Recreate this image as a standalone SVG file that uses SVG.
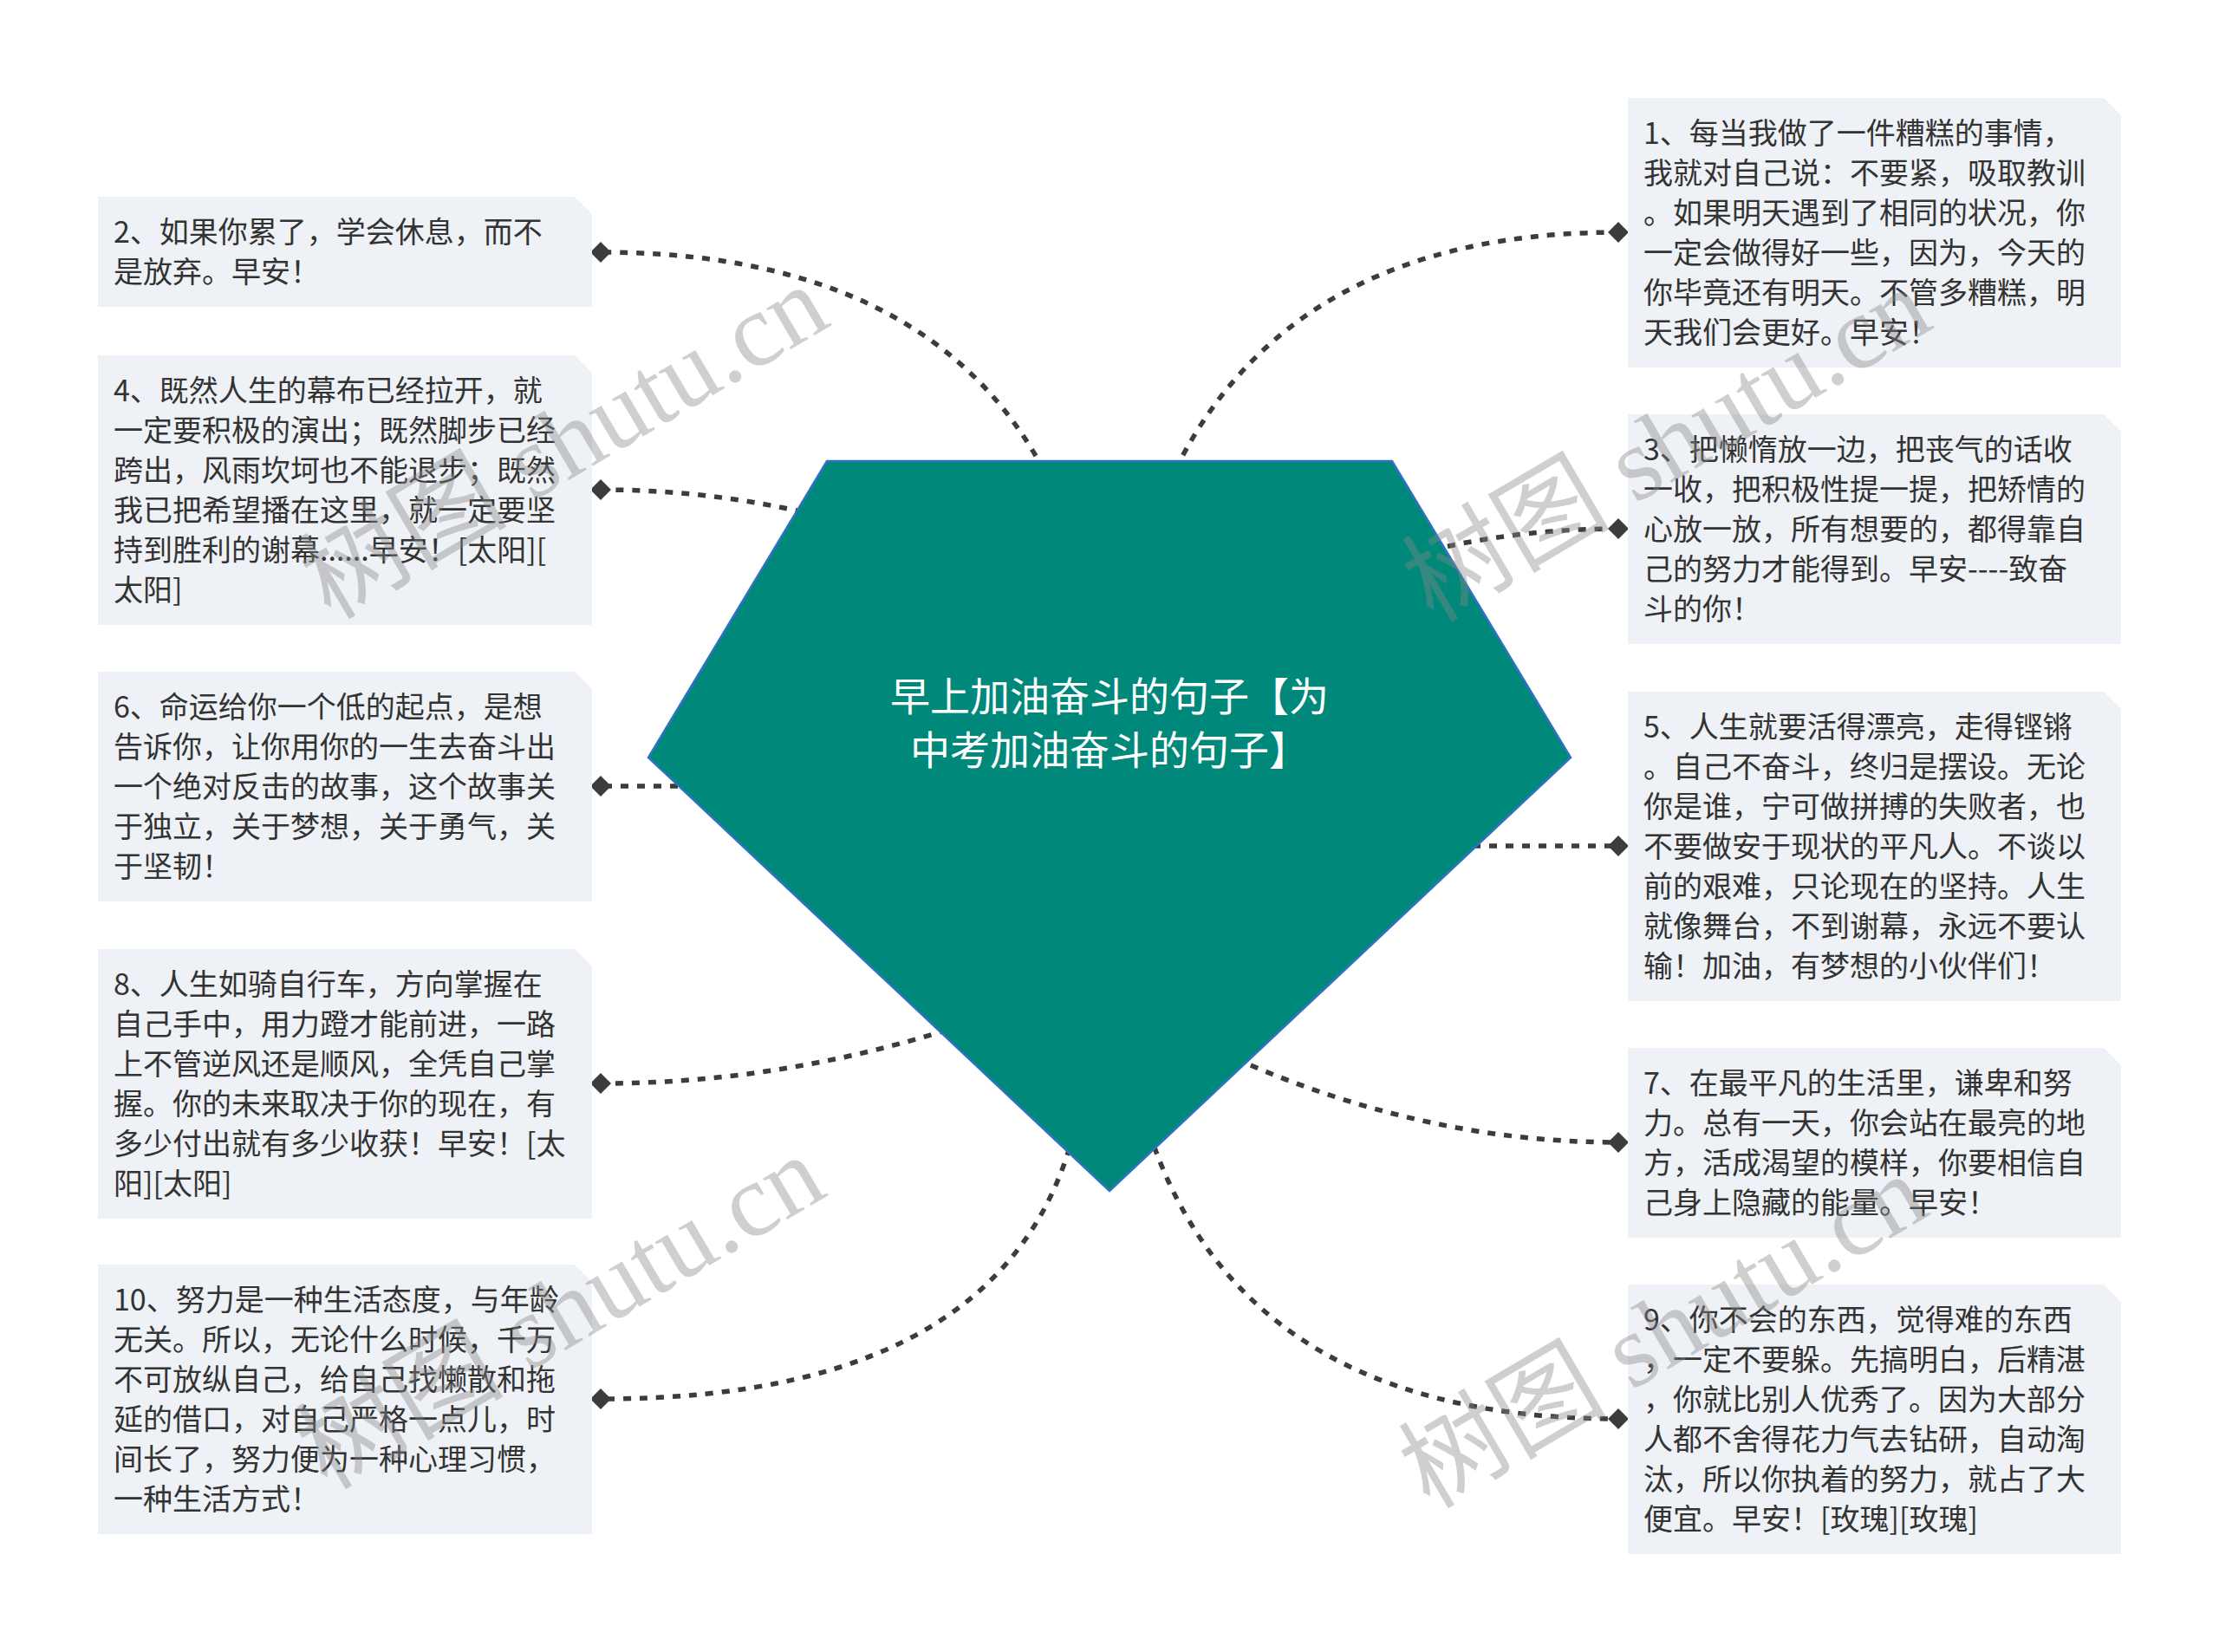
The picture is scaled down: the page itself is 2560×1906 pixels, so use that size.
<svg xmlns="http://www.w3.org/2000/svg" width="2560" height="1906" viewBox="0 0 2560 1906">
<style>
.box{fill:#eef1f5;}
.t{font-family:"Noto Sans CJK SC","Liberation Sans",sans-serif;font-size:34px;fill:#333333;}
.title{font-family:"Noto Sans CJK SC","Liberation Sans",sans-serif;font-size:46px;fill:#ffffff;text-anchor:middle;}
.conn{fill:none;stroke:#3c3c3c;stroke-width:5.5;stroke-dasharray:9 10;marker-end:url(#dia);}
.wm{font-family:"Liberation Serif","Noto Sans CJK SC",serif;font-size:120px;fill:#888888;fill-opacity:0.4;text-anchor:middle;}
</style>
<defs>
<marker id="dia" viewBox="-13 -13 26 26" markerWidth="26" markerHeight="26" refX="0" refY="0" markerUnits="userSpaceOnUse" orient="auto">
<path d="M-12 0 L0 -12 L12 0 L0 12 Z" fill="#3c3c3c"/>
</marker>
</defs>
<rect x="0" y="0" width="2560" height="1906" fill="#ffffff"/>
<g id="connectors">
<path class="conn" d="M 1280 873 Q 1310 268 1867 268"/>
<path class="conn" d="M 1280 873 Q 1265 291 693 291"/>
<path class="conn" d="M 1560 660 Q 1710 610 1867 610"/>
<path class="conn" d="M 1000 610 Q 850 565 693 565"/>
<path class="conn" d="M 1680 976 L 1867 976"/>
<path class="conn" d="M 820 907 L 693 907"/>
<path class="conn" d="M 1340 1180 Q 1600 1318 1867 1318"/>
<path class="conn" d="M 1200 1150 Q 950 1250 693 1250"/>
<path class="conn" d="M 1310 1250 Q 1400 1637 1867 1637"/>
<path class="conn" d="M 1250 1250 Q 1200 1614 693 1614"/>
</g>
<g id="center">
<polygon points="954,532 1606,532 1812,874 1280,1374 748,874" fill="#00897b" stroke="#2f72c4" stroke-width="2.5" stroke-linejoin="miter"/>
<text class="title"><tspan x="1280" y="820">早上加油奋斗的句子【为</tspan><tspan x="1280" y="882">中考加油奋斗的句子】</tspan></text>
</g>
<g id="n1">
<path class="box" d="M1878 113 H2427 L2447 133 V424 H1878 Z"/>
<text class="t"><tspan x="1896" y="166">1、每当我做了一件糟糕的事情，</tspan><tspan x="1896" y="212">我就对自己说：不要紧，吸取教训</tspan><tspan x="1896" y="258">。如果明天遇到了相同的状况，你</tspan><tspan x="1896" y="304">一定会做得好一些，因为，今天的</tspan><tspan x="1896" y="350">你毕竟还有明天。不管多糟糕，明</tspan><tspan x="1896" y="396">天我们会更好。早安！</tspan></text>
</g>
<g id="n2">
<path class="box" d="M113 227 H663 L683 247 V354 H113 Z"/>
<text class="t"><tspan x="131" y="280">2、如果你累了，学会休息，而不</tspan><tspan x="131" y="326">是放弃。早安！</tspan></text>
</g>
<g id="n3">
<path class="box" d="M1878 478 H2427 L2447 498 V743 H1878 Z"/>
<text class="t"><tspan x="1896" y="531">3、把懒惰放一边，把丧气的话收</tspan><tspan x="1896" y="577">一收，把积极性提一提，把矫情的</tspan><tspan x="1896" y="623">心放一放，所有想要的，都得靠自</tspan><tspan x="1896" y="669">己的努力才能得到。早安----致奋</tspan><tspan x="1896" y="715">斗的你！</tspan></text>
</g>
<g id="n4">
<path class="box" d="M113 410 H663 L683 430 V721 H113 Z"/>
<text class="t"><tspan x="131" y="463">4、既然人生的幕布已经拉开，就</tspan><tspan x="131" y="509">一定要积极的演出；既然脚步已经</tspan><tspan x="131" y="555">跨出，风雨坎坷也不能退步；既然</tspan><tspan x="131" y="601">我已把希望播在这里，就一定要坚</tspan><tspan x="131" y="647">持到胜利的谢幕......早安！[太阳][</tspan><tspan x="131" y="693">太阳]</tspan></text>
</g>
<g id="n5">
<path class="box" d="M1878 798 H2427 L2447 818 V1155 H1878 Z"/>
<text class="t"><tspan x="1896" y="851">5、人生就要活得漂亮，走得铿锵</tspan><tspan x="1896" y="897">。自己不奋斗，终归是摆设。无论</tspan><tspan x="1896" y="943">你是谁，宁可做拼搏的失败者，也</tspan><tspan x="1896" y="989">不要做安于现状的平凡人。不谈以</tspan><tspan x="1896" y="1035">前的艰难，只论现在的坚持。人生</tspan><tspan x="1896" y="1081">就像舞台，不到谢幕，永远不要认</tspan><tspan x="1896" y="1127">输！加油，有梦想的小伙伴们！</tspan></text>
</g>
<g id="n6">
<path class="box" d="M113 775 H663 L683 795 V1040 H113 Z"/>
<text class="t"><tspan x="131" y="828">6、命运给你一个低的起点，是想</tspan><tspan x="131" y="874">告诉你，让你用你的一生去奋斗出</tspan><tspan x="131" y="920">一个绝对反击的故事，这个故事关</tspan><tspan x="131" y="966">于独立，关于梦想，关于勇气，关</tspan><tspan x="131" y="1012">于坚韧！</tspan></text>
</g>
<g id="n7">
<path class="box" d="M1878 1209 H2427 L2447 1229 V1428 H1878 Z"/>
<text class="t"><tspan x="1896" y="1262">7、在最平凡的生活里，谦卑和努</tspan><tspan x="1896" y="1308">力。总有一天，你会站在最亮的地</tspan><tspan x="1896" y="1354">方，活成渴望的模样，你要相信自</tspan><tspan x="1896" y="1400">己身上隐藏的能量。早安！</tspan></text>
</g>
<g id="n8">
<path class="box" d="M113 1095 H663 L683 1115 V1406 H113 Z"/>
<text class="t"><tspan x="131" y="1148">8、人生如骑自行车，方向掌握在</tspan><tspan x="131" y="1194">自己手中，用力蹬才能前进，一路</tspan><tspan x="131" y="1240">上不管逆风还是顺风，全凭自己掌</tspan><tspan x="131" y="1286">握。你的未来取决于你的现在，有</tspan><tspan x="131" y="1332">多少付出就有多少收获！早安！[太</tspan><tspan x="131" y="1378">阳][太阳]</tspan></text>
</g>
<g id="n9">
<path class="box" d="M1878 1482 H2427 L2447 1502 V1793 H1878 Z"/>
<text class="t"><tspan x="1896" y="1535">9、你不会的东西，觉得难的东西</tspan><tspan x="1896" y="1581">，一定不要躲。先搞明白，后精湛</tspan><tspan x="1896" y="1627">，你就比别人优秀了。因为大部分</tspan><tspan x="1896" y="1673">人都不舍得花力气去钻研，自动淘</tspan><tspan x="1896" y="1719">汰，所以你执着的努力，就占了大</tspan><tspan x="1896" y="1765">便宜。早安！[玫瑰][玫瑰]</tspan></text>
</g>
<g id="n10">
<path class="box" d="M113 1459 H663 L683 1479 V1770 H113 Z"/>
<text class="t"><tspan x="131" y="1512">10、努力是一种生活态度，与年龄</tspan><tspan x="131" y="1558">无关。所以，无论什么时候，千万</tspan><tspan x="131" y="1604">不可放纵自己，给自己找懒散和拖</tspan><tspan x="131" y="1650">延的借口，对自己严格一点儿，时</tspan><tspan x="131" y="1696">间长了，努力便为一种心理习惯，</tspan><tspan x="131" y="1742">一种生活方式！</tspan></text>
</g>
<g id="watermarks">
<text class="wm" transform="translate(653 514) rotate(-30.5)" x="0" y="36">树图 shutu.cn</text>
<text class="wm" transform="translate(1925 517) rotate(-30.5)" x="0" y="36">树图 shutu.cn</text>
<text class="wm" transform="translate(649 1518) rotate(-30.5)" x="0" y="36">树图 shutu.cn</text>
<text class="wm" transform="translate(1921 1540) rotate(-30.5)" x="0" y="36">树图 shutu.cn</text>
</g>
</svg>
